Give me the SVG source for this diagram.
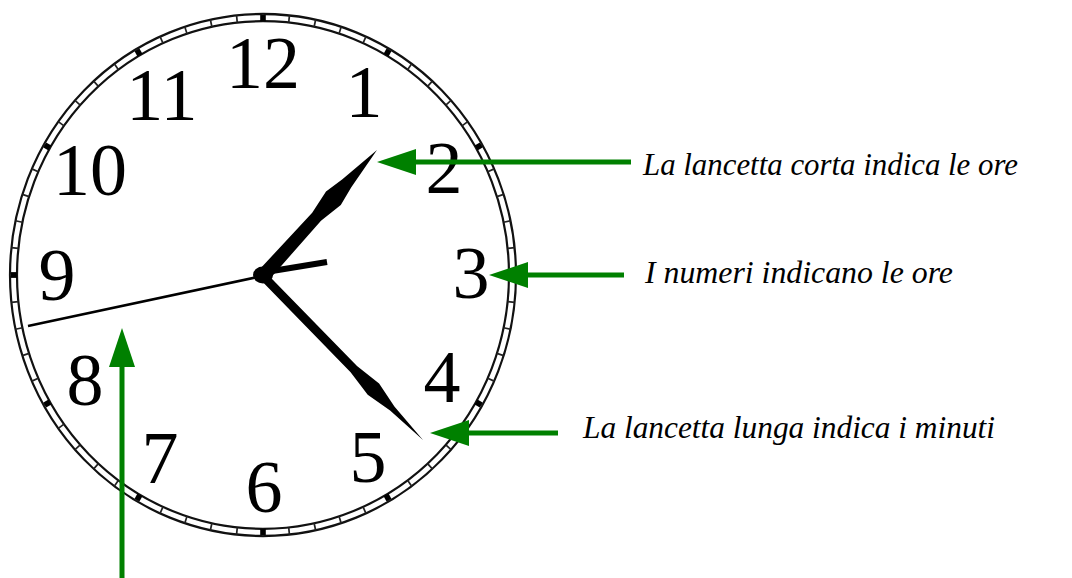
<svg xmlns="http://www.w3.org/2000/svg" xmlns:xlink="http://www.w3.org/1999/xlink" width="1072" height="578" viewBox="0 0 1072 578">
<style>
.ring{fill:none;stroke:#111;stroke-width:2.2}
.tk{stroke:#222;stroke-width:1.7}
.num{font-family:"Liberation Serif","Times New Roman",serif;font-size:74px;fill:#000;text-anchor:middle}
.lbl{font-family:"Liberation Serif","Times New Roman",serif;font-style:italic;font-size:31px;fill:#000}
.arr{stroke:#008000;stroke-width:5;fill:none;marker-end:url(#ah)}
.hand{fill:#000}
</style>
<defs>
<marker id="ah" markerUnits="userSpaceOnUse" viewBox="0 0 39 26" refX="0" refY="13" markerWidth="39" markerHeight="26" orient="auto">
<path d="M0,0 L39,13 L0,26 z" fill="#008000"/>
</marker>
<line id="tk" class="tk" x1="0" y1="-253" x2="0" y2="-246"/>
<rect id="bk" x="-2.8" y="-252" width="5.6" height="6" fill="#000"/>
</defs>
<rect width="1072" height="578" fill="#fff"/>
<g id="clock-face">
<g transform="translate(263 275) scale(1 1.0316)">
<circle class="ring" r="253"/>
<circle class="ring" r="246"/>
<use href="#tk" transform="rotate(0)"/><use href="#tk" transform="rotate(6)"/><use href="#tk" transform="rotate(12)"/><use href="#tk" transform="rotate(18)"/><use href="#tk" transform="rotate(24)"/><use href="#tk" transform="rotate(30)"/><use href="#tk" transform="rotate(36)"/><use href="#tk" transform="rotate(42)"/><use href="#tk" transform="rotate(48)"/><use href="#tk" transform="rotate(54)"/>
<use href="#tk" transform="rotate(60)"/><use href="#tk" transform="rotate(66)"/><use href="#tk" transform="rotate(72)"/><use href="#tk" transform="rotate(78)"/><use href="#tk" transform="rotate(84)"/><use href="#tk" transform="rotate(90)"/><use href="#tk" transform="rotate(96)"/><use href="#tk" transform="rotate(102)"/><use href="#tk" transform="rotate(108)"/><use href="#tk" transform="rotate(114)"/>
<use href="#tk" transform="rotate(120)"/><use href="#tk" transform="rotate(126)"/><use href="#tk" transform="rotate(132)"/><use href="#tk" transform="rotate(138)"/><use href="#tk" transform="rotate(144)"/><use href="#tk" transform="rotate(150)"/><use href="#tk" transform="rotate(156)"/><use href="#tk" transform="rotate(162)"/><use href="#tk" transform="rotate(168)"/><use href="#tk" transform="rotate(174)"/>
<use href="#tk" transform="rotate(180)"/><use href="#tk" transform="rotate(186)"/><use href="#tk" transform="rotate(192)"/><use href="#tk" transform="rotate(198)"/><use href="#tk" transform="rotate(204)"/><use href="#tk" transform="rotate(210)"/><use href="#tk" transform="rotate(216)"/><use href="#tk" transform="rotate(222)"/><use href="#tk" transform="rotate(228)"/><use href="#tk" transform="rotate(234)"/>
<use href="#tk" transform="rotate(240)"/><use href="#tk" transform="rotate(246)"/><use href="#tk" transform="rotate(252)"/><use href="#tk" transform="rotate(258)"/><use href="#tk" transform="rotate(264)"/><use href="#tk" transform="rotate(270)"/><use href="#tk" transform="rotate(276)"/><use href="#tk" transform="rotate(282)"/><use href="#tk" transform="rotate(288)"/><use href="#tk" transform="rotate(294)"/>
<use href="#tk" transform="rotate(300)"/><use href="#tk" transform="rotate(306)"/><use href="#tk" transform="rotate(312)"/><use href="#tk" transform="rotate(318)"/><use href="#tk" transform="rotate(324)"/><use href="#tk" transform="rotate(330)"/><use href="#tk" transform="rotate(336)"/><use href="#tk" transform="rotate(342)"/><use href="#tk" transform="rotate(348)"/><use href="#tk" transform="rotate(354)"/>
<use href="#bk" transform="rotate(0)"/><use href="#bk" transform="rotate(30)"/><use href="#bk" transform="rotate(60)"/><use href="#bk" transform="rotate(90)"/><use href="#bk" transform="rotate(120)"/><use href="#bk" transform="rotate(150)"/><use href="#bk" transform="rotate(180)"/><use href="#bk" transform="rotate(210)"/><use href="#bk" transform="rotate(240)"/><use href="#bk" transform="rotate(270)"/><use href="#bk" transform="rotate(300)"/><use href="#bk" transform="rotate(330)"/>
</g>
</g>
<g id="numbers">
<text class="num" x="263" y="88">12</text>
<text class="num" x="364" y="117">1</text>
<text class="num" x="444" y="193">2</text>
<text class="num" x="471" y="298">3</text>
<text class="num" x="442" y="402">4</text>
<text class="num" x="368" y="482">5</text>
<text class="num" x="264" y="512">6</text>
<text class="num" x="160" y="483">7</text>
<text class="num" x="85" y="405">8</text>
<text class="num" x="57" y="300">9</text>
<text class="num" x="90" y="195">10</text>
<text class="num" x="162" y="120">11</text>
</g>
<g id="hands">
<line x1="272" y1="274" x2="28" y2="326" stroke="#000" stroke-width="2.6"/>
<line x1="266" y1="272" x2="327" y2="262" stroke="#000" stroke-width="6"/>
<polygon id="hour-hand" class="hand" points="268.2,280.7 321,220.7 340.8,204.9 351.3,187.3 377,150 342.4,179.3 326,191.5 312.2,212.7 257.8,271.3"/>
<polygon id="minute-hand" class="hand" points="259.8,279.1 350.6,372.2 367.7,394.7 390.1,410.6 423,440 394.4,406.4 379.1,383.5 357,366 266.2,272.9"/>
<ellipse cx="263" cy="275" rx="10" ry="8.5" fill="#000"/>
</g>
<g id="connectors">
<line class="arr" x1="631" y1="162" x2="416" y2="162"/>
<line class="arr" x1="624" y1="275" x2="528" y2="275"/>
<line class="arr" x1="558" y1="433" x2="469" y2="433"/>
<line class="arr" x1="122" y1="580" x2="122" y2="367"/>
</g>
<g id="label-short">
<text class="lbl" x="643" y="175" textLength="375" lengthAdjust="spacingAndGlyphs">La lancetta corta indica le ore</text>
</g>
<g id="label-numbers">
<text class="lbl" x="645" y="283" textLength="308" lengthAdjust="spacingAndGlyphs">I numeri indicano le ore</text>
</g>
<g id="label-long">
<text class="lbl" x="583" y="438" textLength="412" lengthAdjust="spacingAndGlyphs">La lancetta lunga indica i minuti</text>
</g>
</svg>
